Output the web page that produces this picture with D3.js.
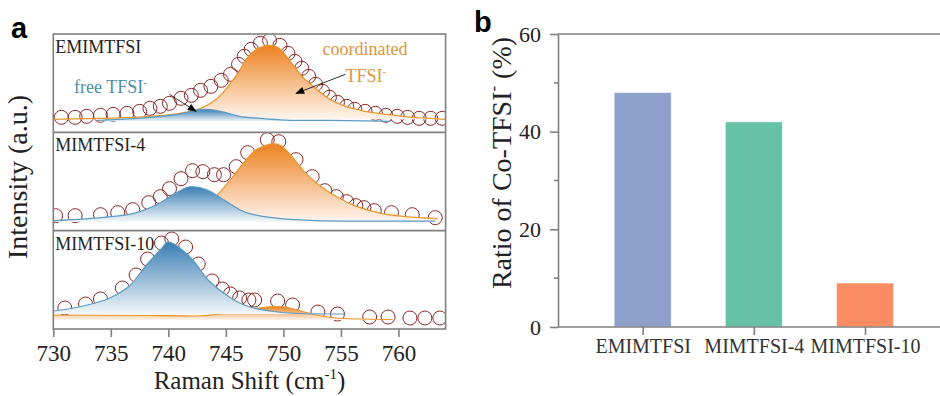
<!DOCTYPE html>
<html>
<head>
<meta charset="utf-8">
<script src="https://cdn.jsdelivr.net/npm/d3@7"></script>
<style>
  body { margin: 0; background: #fff; }
  svg { display: block; font-family: "Liberation Serif", "Times New Roman", serif; }
</style>
</head>
<body>
<svg id="chart" width="940" height="396"></svg>
<script>
// ---- data ----
const ramanShiftTicks = [730, 735, 740, 745, 750, 755, 760];
const sampleNames = ['EMIMTFSI', 'MIMTFSI-4', 'MIMTFSI-10'];
const coTfsiRatio = [48, 42, 9];
const ratioTicks = [0, 20, 40, 60];
const ratioMinorTicks = [10, 30, 50];

// [Raman shift, intensity a.u.] for each sample
const emimMeasured = [[730.7,15],[731.9,15],[732.9,16],[734.1,17],[735.2,18],[736.4,19],[737.5,21],[738.4,24],[739.3,26],[740.1,29],[741.1,34],[742.0,37],[742.8,42],[743.7,46],[744.6,52],[745.4,58],[746.1,68],[746.6,76],[747.2,83],[748.0,89],[748.8,92],[749.7,87],[750.4,79],[751.0,71],[751.6,64],[752.2,56],[752.8,48],[753.4,41],[754.0,35],[754.7,30],[755.5,26],[756.2,23],[757.1,21],[758.0,19],[758.9,17],[759.9,16],[760.8,15],[761.8,14],[762.8,14],[763.8,14]];
const emimCoordinated = [[730.0,13],[734.1,14],[738.4,16],[741.0,19],[742.8,24],[743.8,30],[744.7,39],[745.4,49],[746.1,60],[746.7,72],[747.3,80],[748.0,85],[748.8,87],[749.5,85],[750.2,77],[751.0,65],[751.7,55],[752.5,47],[753.2,40],[753.9,34],[755.4,26],[756.7,22],[758.2,19],[759.7,17],[761.2,15],[762.8,14],[764.1,13]];
const emimFree = [[733.8,12],[738.4,15],[741.3,19],[742.3,22],[743.2,23],[744.1,22],[745.2,19],[746.2,16],[748.0,14],[750.6,12],[754.1,12],[759.3,11]];

const mim4Measured = [[730.2,15],[731.9,15],[734.1,16],[735.6,18],[736.9,21],[738.3,28],[739.3,34],[740.1,42],[741.1,52],[742.1,60],[743.0,59],[744.0,56],[744.8,56],[745.9,64],[746.9,78],[748.6,91],[749.6,89],[751.1,71],[752.5,54],[753.6,40],[754.6,34],[755.5,29],[756.3,25],[757.0,23],[757.9,20],[759.4,18],[761.2,16],[763.2,13]];
const mim4Coordinated = [[730.0,10],[735.8,12],[740.1,17],[742.8,25],[744.1,34],[745.4,51],[746.7,70],[747.5,80],[748.4,85],[749.1,87],[749.8,85],[750.6,76],[751.9,58],[753.4,43],[754.8,33],[756.2,25],[758.2,18],[760.6,14],[763.4,12]];
const mim4Free = [[730.0,10],[734.1,13],[736.9,17],[739.3,28],[740.7,38],[742.0,44],[743.3,41],[744.8,31],[746.2,21],[747.1,17],[751.0,11],[755.4,9.5],[763.2,9.5]];

const mim10Measured = [[731.0,21],[732.8,25],[734.1,30],[736.0,41],[737.2,54],[738.2,70],[739.4,86],[740.3,90],[741.5,82],[742.6,65],[743.8,48],[744.7,40],[745.4,35],[746.2,31],[747.0,29],[747.5,29],[749.5,28],[750.8,24],[753.0,17],[754.7,15],[757.5,12],[759.1,12],[761.0,11],[762.3,11],[763.6,11]];
const mim10Coordinated = [[730.0,14],[738.4,13.5],[742.3,13],[744.9,15.5],[746.7,19],[748.2,21.5],[749.3,22.5],[750.1,22],[751.2,19],[752.5,15],[753.9,12],[755.4,10.5],[759.5,9.5]];
const mim10Free = [[730.0,18],[732.6,23],[734.9,31],[736.7,44],[738.1,64],[739.3,79],[740.0,87],[741.0,81],[742.2,68],[743.3,51],[744.8,36],[746.2,26],[747.1,22],[748.8,18],[751.4,15.5],[755.3,15]];

const spectra = [
  { name: 'EMIMTFSI', measured: emimMeasured, coord: emimCoordinated, free: emimFree, coordBase: 13, freeBase: 11 },
  { name: 'MIMTFSI-4', measured: mim4Measured, coord: mim4Coordinated, free: mim4Free, coordBase: 9, freeBase: 9 },
  { name: 'MIMTFSI-10', measured: mim10Measured, coord: mim10Coordinated, free: mim10Free, coordBase: 9, freeBase: 15 },
];

const barColors = ['#8da0cb', '#66c2a5', '#fc8d62'];
const axisGrey = '#808080';

const svg = d3.select('#chart');
const defs = svg.append('defs');

// gradients for the fitted peaks
function addGradient(id, top, bottom) {
  const g = defs.append('linearGradient').attr('id', id)
    .attr('x1', 0).attr('y1', 0).attr('x2', 0).attr('y2', 1);
  g.append('stop').attr('offset', '0%').attr('stop-color', top);
  g.append('stop').attr('offset', '100%').attr('stop-color', bottom);
}
addGradient('gradOrange', '#ed8220', '#fff6f0');
addGradient('gradBlue', '#3a7eb4', '#f3f7fa');

defs.append('marker').attr('id', 'arrow')
  .attr('viewBox', '0 0 10 10').attr('refX', 9).attr('refY', 5)
  .attr('markerWidth', 11).attr('markerHeight', 9)
  .attr('markerUnits', 'userSpaceOnUse').attr('orient', 'auto')
  .append('path').attr('d', 'M0,1 L10,5 L0,9 Z').attr('fill', '#000');

// helper for text with a superscript
function supText(sel, base, sup, after, fs) {
  sel.append('tspan').text(base);
  sel.append('tspan').attr('dy', -fs * 0.42).attr('font-size', fs * 0.6).text(sup);
  if (after) sel.append('tspan').attr('dy', fs * 0.42).text(after);
}

// ---------------- panel a ----------------
const aLeft = 53.3, aRight = 445.6, aTop = 34, aBottom = 329;
const panelH = (aBottom - aTop) / 3;
const x = d3.scaleLinear().domain([730, 764.1]).range([aLeft, aRight]);

defs.append('clipPath').attr('id', 'clipA').append('rect')
  .attr('x', aLeft).attr('y', aTop).attr('width', aRight - aLeft).attr('height', aBottom - aTop);

const gA = svg.append('g').attr('clip-path', 'url(#clipA)');

spectra.forEach((p, i) => {
  const top = aTop + i * panelH;
  const y = d3.scaleLinear().domain([0, panelH]).range([top + panelH, top]);
  const g = gA.append('g');

  g.selectAll('circle').data(p.measured).join('circle')
    .attr('cx', d => x(d[0])).attr('cy', d => y(d[1])).attr('r', 7)
    .attr('fill', 'none').attr('stroke', '#8a2828').attr('stroke-width', 1);

  const area = base => d3.area().x(d => x(d[0])).y0(y(base)).y1(d => y(d[1])).curve(d3.curveMonotoneX);
  const line = d3.line().x(d => x(d[0])).y(d => y(d[1])).curve(d3.curveMonotoneX);

  g.append('path').datum(p.coord).attr('d', area(p.coordBase)).attr('fill', 'url(#gradOrange)');
  g.append('path').datum(p.coord).attr('d', line).attr('fill', 'none').attr('stroke', '#e8962e').attr('stroke-width', 1.2);
  g.append('path').datum(p.free).attr('d', area(p.freeBase)).attr('fill', 'url(#gradBlue)');
  g.append('path').datum(p.free).attr('d', line).attr('fill', 'none').attr('stroke', '#5a9bc4').attr('stroke-width', 1.2);

  svg.append('text').attr('x', aLeft + 2).attr('y', top + 19)
    .attr('font-size', 18).attr('fill', '#222').text(p.name);

  if (i === 0) {
    const t1 = svg.append('text').attr('x', x(731.8)).attr('y', y(39)).attr('font-size', 18).attr('fill', '#4a90a8');
    supText(t1, 'free TFSI', '-', null, 18);
    svg.append('text').attr('x', x(753.4)).attr('y', y(77)).attr('font-size', 18).attr('fill', '#e0963c').text('coordinated');
    const t2 = svg.append('text').attr('x', x(755.4)).attr('y', y(50)).attr('font-size', 18).attr('fill', '#e0963c');
    supText(t2, 'TFSI', '-', null, 18);
    svg.append('line').attr('x1', x(740.1)).attr('y1', y(38)).attr('x2', x(742.4)).attr('y2', y(21))
      .attr('stroke', '#000').attr('stroke-width', 0.8).attr('marker-end', 'url(#arrow)');
    svg.append('line').attr('x1', x(755.4)).attr('y1', y(58)).attr('x2', x(751.1)).attr('y2', y(39))
      .attr('stroke', '#000').attr('stroke-width', 0.8).attr('marker-end', 'url(#arrow)');
  }
});

// frame and separators
svg.append('rect').attr('x', aLeft).attr('y', aTop).attr('width', aRight - aLeft).attr('height', aBottom - aTop)
  .attr('fill', 'none').attr('stroke', axisGrey).attr('stroke-width', 1.6);
[1, 2].forEach(k => {
  svg.append('line').attr('x1', aLeft).attr('x2', aRight)
    .attr('y1', aTop + k * panelH).attr('y2', aTop + k * panelH)
    .attr('stroke', axisGrey).attr('stroke-width', 1.6);
});

const xAxis = svg.append('g').attr('transform', `translate(0,${aBottom})`)
  .call(d3.axisBottom(x).tickValues(ramanShiftTicks).tickSize(8).tickPadding(8).tickFormat(d3.format('d')));
xAxis.select('.domain').remove();
xAxis.selectAll('line').attr('stroke', axisGrey).attr('stroke-width', 1.6);
xAxis.selectAll('text').attr('font-size', 23).attr('fill', '#222').attr('font-family', 'Liberation Serif, serif');

const xTitle = svg.append('text').attr('x', (aLeft + aRight) / 2).attr('y', 389)
  .attr('text-anchor', 'middle').attr('font-size', 25).attr('fill', '#222');
supText(xTitle, 'Raman Shift (cm', '-1', ')', 25);

svg.append('text').attr('transform', 'translate(27,177) rotate(-90)')
  .attr('text-anchor', 'middle').attr('font-size', 28).attr('fill', '#222').text('Intensity (a.u.)');

svg.append('text').attr('x', 11).attr('y', 38).attr('font-family', 'Liberation Sans, Arial, sans-serif')
  .attr('font-weight', 'bold').attr('font-size', 29).attr('fill', '#000').text('a');

// ---------------- panel b ----------------
const bLeft = 558, bRight = 940, bTop = 34, bBottom = 327;
const yb = d3.scaleLinear().domain([0, 60]).range([bBottom, bTop]);
const xb = d3.scalePoint().domain(sampleNames).range([642.7, 865]);
const barW = 57;

svg.append('g').selectAll('rect').data(sampleNames).join('rect')
  .attr('x', d => xb(d) - barW / 2).attr('width', barW)
  .attr('y', (d, i) => yb(coTfsiRatio[i])).attr('height', (d, i) => bBottom - yb(coTfsiRatio[i]))
  .attr('fill', (d, i) => barColors[i])
  .attr('stroke', '#ffffff').attr('stroke-opacity', 0.5).attr('stroke-width', 1);

svg.append('line').attr('x1', bLeft).attr('x2', bRight).attr('y1', bTop).attr('y2', bTop)
  .attr('stroke', axisGrey).attr('stroke-width', 1.6);
svg.append('line').attr('x1', bLeft).attr('x2', bRight).attr('y1', bBottom).attr('y2', bBottom)
  .attr('stroke', axisGrey).attr('stroke-width', 1.6);

const yAxisB = svg.append('g').attr('transform', `translate(${bLeft},0)`)
  .call(d3.axisLeft(yb).tickValues(ratioTicks).tickSize(8).tickPadding(9).tickSizeOuter(0));
yAxisB.select('.domain').attr('stroke', axisGrey).attr('stroke-width', 1.6);
yAxisB.selectAll('line').attr('stroke', axisGrey).attr('stroke-width', 1.6);
yAxisB.selectAll('text').attr('font-size', 22).attr('fill', '#222').attr('font-family', 'Liberation Serif, serif');

svg.append('g').selectAll('line').data(ratioMinorTicks).join('line')
  .attr('x1', bLeft - 4).attr('x2', bLeft).attr('y1', d => yb(d)).attr('y2', d => yb(d))
  .attr('stroke', axisGrey).attr('stroke-width', 1.6);

const xAxisB = svg.append('g').attr('transform', `translate(0,${bBottom})`)
  .call(d3.axisBottom(xb).tickSize(8).tickPadding(4));
xAxisB.select('.domain').remove();
xAxisB.selectAll('line').attr('stroke', axisGrey).attr('stroke-width', 1.6);
xAxisB.selectAll('text').attr('font-size', 20).attr('fill', '#333').attr('font-family', 'Liberation Serif, serif');

const yTitleB = svg.append('text').attr('transform', 'translate(511,163) rotate(-90)')
  .attr('text-anchor', 'middle').attr('font-size', 28).attr('fill', '#222');
supText(yTitleB, 'Ratio of Co-TFSI', '-', ' (%)', 28);

svg.append('text').attr('x', 474).attr('y', 32).attr('font-family', 'Liberation Sans, Arial, sans-serif')
  .attr('font-weight', 'bold').attr('font-size', 29).attr('fill', '#000').text('b');
</script>
</body>
</html>
